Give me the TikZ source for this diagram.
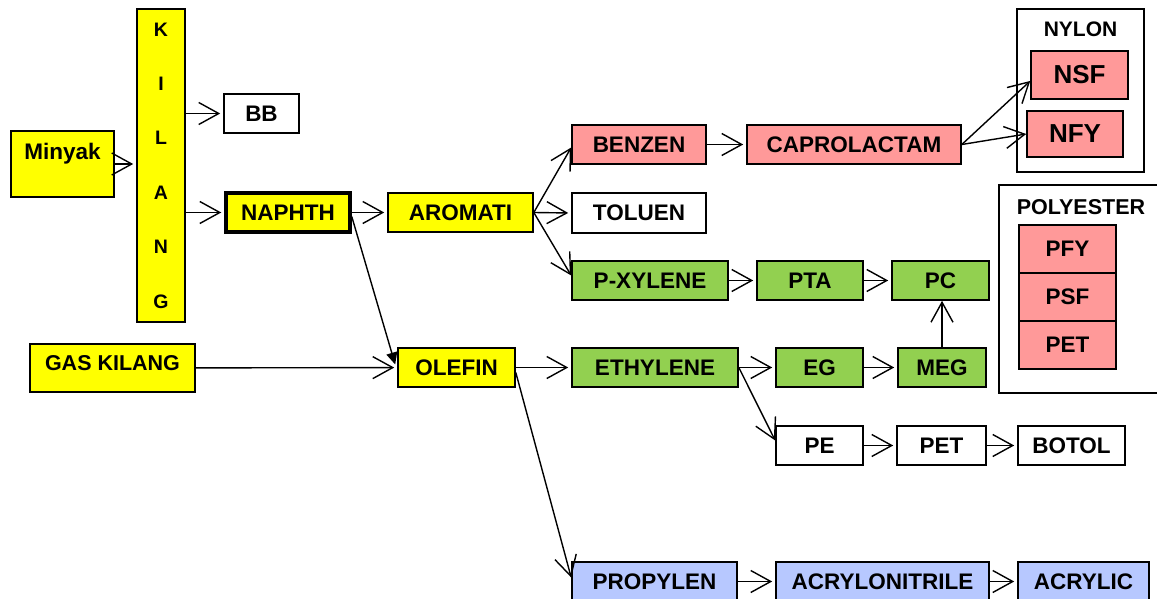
\documentclass[tikz,border=0pt]{standalone}
\usepackage{fontspec}
\setmainfont{Liberation Sans}
\usetikzlibrary{arrows.meta}
\definecolor{yel}{HTML}{FFFF00}
\definecolor{pinkbox}{HTML}{FF9999}
\definecolor{greenbox}{HTML}{92D050}
\definecolor{bluebox}{HTML}{B7C8FF}

\begin{document}
\begin{tikzpicture}[x=1pt,y=-1pt,
  box/.style={draw, line width=1.6pt, inner sep=0pt, minimum height=39pt,
    font=\fontsize{22.5}{26}\selectfont\bfseries},
  grp/.style={draw, line width=1.6pt, inner sep=0pt},
  arr/.style={-{Straight Barb[length=20pt,width=22pt]}, line width=1.4pt, shorten >=3pt},
  farr/.style={-{Triangle[length=12pt,width=11pt]}, line width=1.4pt}]
\useasboundingbox (0,0) rectangle (1157,599);

\node[box,fill=yel,minimum width=103pt,minimum height=66pt,text height=16pt,text depth=24pt] (minyak) at (62.5,164) {Minyak};
\node[box,fill=yel,minimum width=48pt,minimum height=313pt,align=center,font=\fontsize{19.5}{54.4}\selectfont\bfseries] (kilang) at (161,165.5) {K\\I\\L\\A\\N\\G};
\node[box,minimum width=75pt] (bb) at (261.5,113.5) {BB};
\node[box,fill=yel,minimum width=124pt,minimum height=39pt,line width=3.5pt] (naphth) at (288,212.5) {NAPHTH};
\node[box,fill=yel,minimum width=145pt] (aromati) at (460.5,212.5) {AROMATI};
\node[box,fill=yel,minimum width=165pt,minimum height=48pt,text height=15.5pt,text depth=10.5pt,font=\fontsize{21.5}{25}\selectfont\bfseries] (gaskilang) at (112.5,368) {GAS KILANG};
\node[box,fill=yel,minimum width=117pt] (olefin) at (456.5,367.5) {OLEFIN};

\node[box,fill=pinkbox,minimum width=134pt] (benzen) at (639,144.5) {BENZEN};
\node[box,fill=pinkbox,minimum width=214pt] (caprolactam) at (854,144.5) {CAPROLACTAM};
\node[box,minimum width=134pt,minimum height=40pt] (toluen) at (639,213) {TOLUEN};
\node[box,fill=greenbox,minimum width=156pt] (pxylene) at (650,280.5) {P-XYLENE};
\node[box,fill=greenbox,minimum width=106pt] (pta) at (810,280.5) {PTA};
\node[box,fill=greenbox,minimum width=97pt] (pc) at (940.5,280.5) {PC};

\node[box,fill=greenbox,minimum width=166pt] (ethylene) at (655,367.5) {ETHYLENE};
\node[box,fill=greenbox,minimum width=87pt] (eg) at (819.5,367.5) {EG};
\node[box,fill=greenbox,minimum width=88pt] (meg) at (942,367.5) {MEG};
\node[box,minimum width=87pt] (pe) at (819.5,445.5) {PE};
\node[box,minimum width=89pt] (pet) at (941.5,445.5) {PET};
\node[box,minimum width=107pt] (botol) at (1071.5,445.5) {BOTOL};

\node[box,fill=bluebox,minimum width=165pt] (propylen) at (654.5,581.5) {PROPYLEN};
\node[box,fill=bluebox,minimum width=213pt] (acrylonitrile) at (882.5,581.5) {ACRYLONITRILE};
\node[box,fill=bluebox,minimum width=131pt] (acrylic) at (1083.5,581.5) {ACRYLIC};

% nylon group
\node[grp,minimum width=127pt,minimum height=163pt] (nylon) at (1080.5,90.5) {};
\node[font=\fontsize{21}{24}\selectfont\bfseries] (nylonlbl) at (1080.5,29) {NYLON};
\node[box,fill=pinkbox,minimum width=97pt,minimum height=48pt,font=\fontsize{26}{30}\selectfont\bfseries] (nsf) at (1079.5,75) {NSF};
\node[box,fill=pinkbox,minimum width=96pt,minimum height=46pt,font=\fontsize{26}{30}\selectfont\bfseries] (nfy) at (1075,134) {NFY};

% polyester group
\node[grp,minimum width=166pt,minimum height=208pt] (polyester) at (1082,289) {};
\node[font=\fontsize{21.5}{25}\selectfont\bfseries] (polyesterlbl) at (1081,207) {POLYESTER};
\node[box,fill=pinkbox,minimum width=97pt,minimum height=48pt] (pfy) at (1067.5,249) {PFY};
\node[box,fill=pinkbox,minimum width=97pt,minimum height=48pt] (psf) at (1067.5,297) {PSF};
\node[box,fill=pinkbox,minimum width=97pt,minimum height=48pt] (pet2) at (1067.5,345) {PET};

\draw[arr] (minyak.east) -- (minyak.east -| kilang.west);
\draw[arr] (kilang.east |- bb) -- (bb.west);
\draw[arr] (kilang.east |- naphth) -- (naphth.west);
\draw[arr] (naphth.east) -- (aromati.west);
\draw[farr] ([shift={(0,4)}]naphth.east) -- ([shift={(-2,-3)}]olefin.west);
\draw[arr] (gaskilang) -- (olefin);
\draw[arr,shorten >=0pt] (aromati.east) -- ([shift={(0,3)}]benzen.west);
\draw[arr] (aromati.east) -- (toluen.west);
\draw[arr,shorten >=0pt] (aromati.east) -- ([shift={(0,-5)}]pxylene.west);
\draw[arr] (benzen) -- (caprolactam);
\draw[arr,shorten >=0pt] (caprolactam.east) -- ([shift={(0,6)}]nsf.west);
\draw[arr,shorten >=0pt] (caprolactam.east) -- (nfy.west);
\draw[arr] (pxylene) -- (pta);
\draw[arr] (pta) -- (pc);
\draw[arr] (olefin) -- (ethylene);
\draw[arr,shorten >=0pt] ([shift={(0,5)}]olefin.east) -- ([shift={(0,-4)}]propylen.west);
\draw[arr] (ethylene) -- (eg);
\draw[arr] (eg) -- (meg);
\draw[arr,shorten >=0pt] (meg.north) -- (meg.north |- pc.south);
\draw[arr,shorten >=0pt] (ethylene.east) -- ([shift={(0,-5)}]pe.west);
\draw[arr] (pe) -- (pet);
\draw[arr] (pet) -- (botol);
\draw[arr] (propylen) -- (acrylonitrile);
\draw[arr] (acrylonitrile) -- (acrylic);
\end{tikzpicture}
\end{document}
